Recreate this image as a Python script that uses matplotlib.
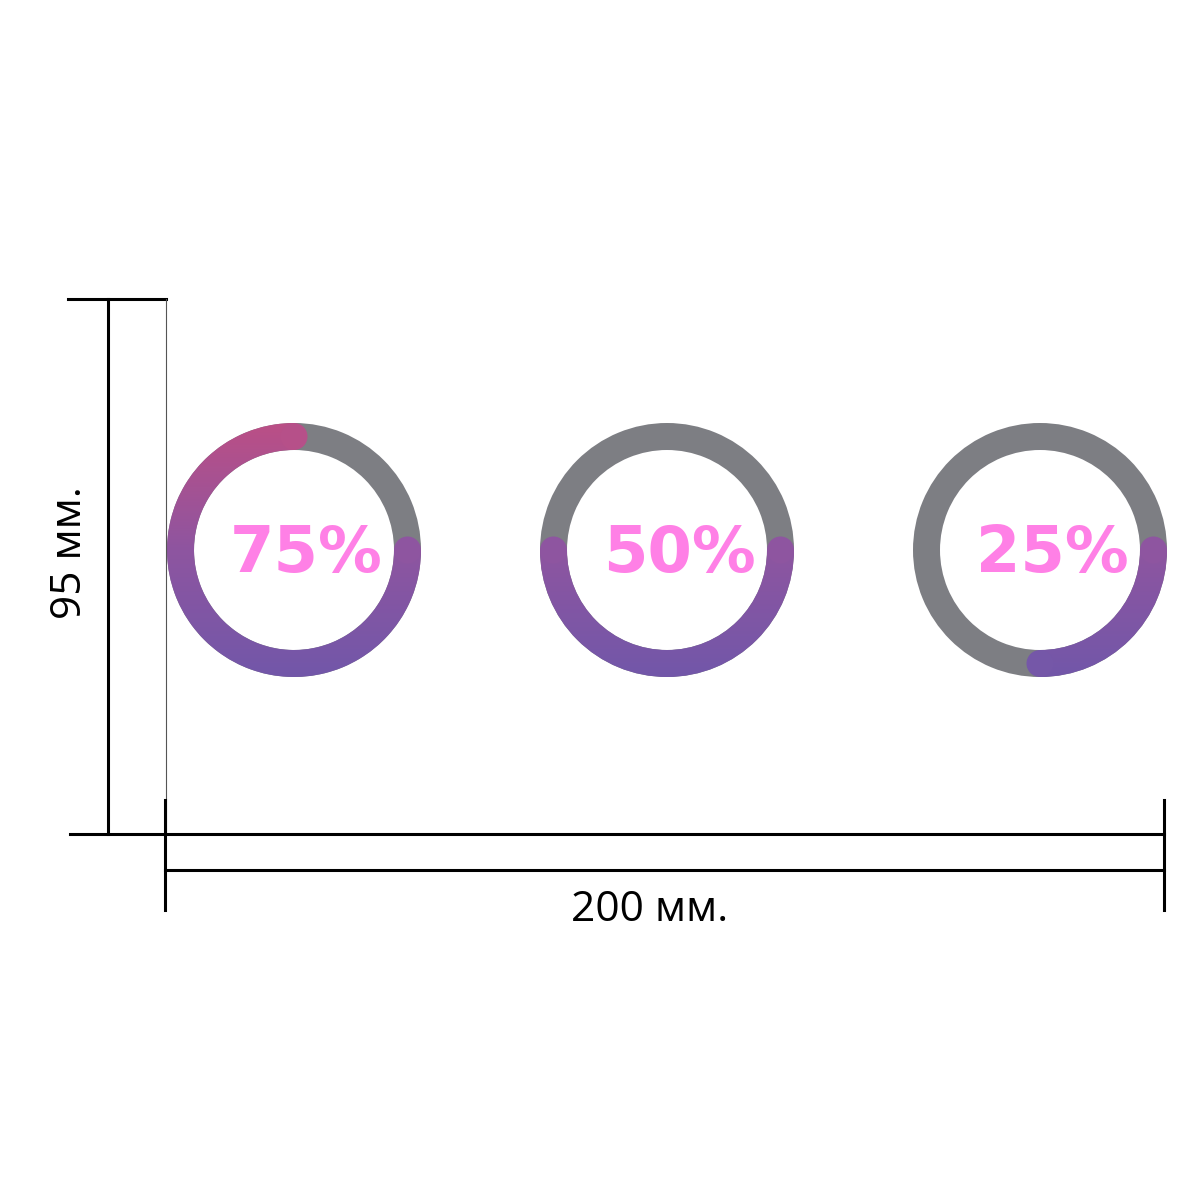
import matplotlib.pyplot as plt
import numpy as np
from matplotlib.patches import Wedge, Circle
from matplotlib.colors import LinearSegmentedColormap

# progress values shown in the three rings
values = [75, 50, 25]
labels = ['75%', '50%', '25%']
width_label = '200 мм.'
height_label = '95 мм.'

ring_gray = '#7d7e83'
text_pink = '#ff80e6'
grad = LinearSegmentedColormap.from_list('g', ['#bb4f86', '#8e55a0', '#7257a9'])

fig = plt.figure(figsize=(12, 12), dpi=100)
ax = fig.add_axes([0, 0, 1, 1])
ax.set_xlim(0, 1200)
ax.set_ylim(1200, 0)
ax.set_aspect('equal')
ax.axis('off')

r_out, r_w = 127, 27
cy = 550
centers = [294, 667, 1040]


def grad_color(y, c):
    t = (y - (c[1] - r_out)) / (2 * r_out)
    return grad(np.clip(t, 0, 1))


for cx, v, lab in zip(centers, values, labels):
    c = (cx, cy)
    # gray background ring
    ax.add_patch(Wedge(c, r_out, 0, 360, width=r_w, color=ring_gray, lw=0))
    # coloured arc: clockwise from 3 o'clock (y axis inverted -> positive angles go down)
    span = 360 * v / 100
    w = Wedge(c, r_out, 0, span, width=r_w, facecolor='none', lw=0)
    ax.add_patch(w)
    grad_img = np.linspace(0, 1, 256).reshape(-1, 1)
    im = ax.imshow(grad_img, cmap=grad, extent=[cx - r_out, cx + r_out, cy + r_out, cy - r_out],
                   aspect='auto', interpolation='bilinear', zorder=2)
    im.set_clip_path(w)
    # round caps
    rm = r_out - r_w / 2
    for a in (0, span):
        px = cx + rm * np.cos(np.radians(a))
        py = cy + rm * np.sin(np.radians(a))
        ax.add_patch(Circle((px, py), r_w / 2, color=grad_color(py, c), lw=0, zorder=3))
    ax.text(cx + 12, cy + 4, lab, color=text_pink, fontsize=46, fontweight='bold',
            family='DejaVu Sans', ha='center', va='center', zorder=4)

# re-apply limits after imshow
ax.set_xlim(0, 1200)
ax.set_ylim(1200, 0)

# dimension lines
lw = 2.2
ax.plot([68, 166], [299, 299], color='black', lw=lw)
ax.plot([108, 108], [299, 834], color='black', lw=lw)
ax.plot([166, 166], [299, 834], color='#555555', lw=0.8)
ax.plot([70, 1164], [834, 834], color='black', lw=lw)
ax.plot([165, 1164], [870, 870], color='black', lw=lw)
ax.plot([165, 165], [800, 910], color='black', lw=lw)
ax.plot([1164, 1164], [800, 910], color='black', lw=lw)

ax.text(650, 910, width_label, fontsize=30.5, family='Open Sans', ha='center', va='center')
ax.text(70, 553, height_label, fontsize=30.5, family='Open Sans', ha='center', va='center',
        rotation=90)

fig.savefig('out.png', dpi=100)
